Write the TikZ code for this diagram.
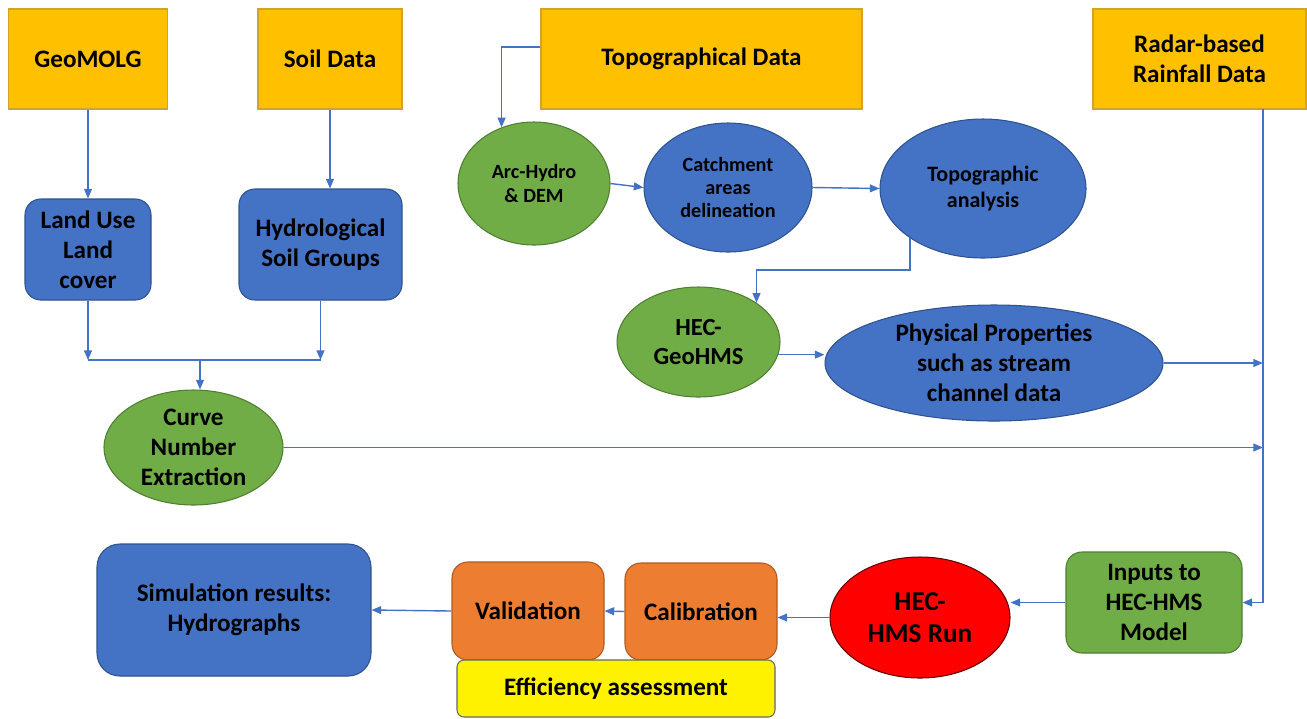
\documentclass[tikz,border=0pt]{standalone}
\usepackage{fontspec}
\setmainfont{Carlito}
\usetikzlibrary{shapes.geometric, arrows.meta}

\definecolor{gold}{HTML}{FFC000}
\definecolor{goldline}{HTML}{D4A22B}
\definecolor{blu}{HTML}{4472C4}
\definecolor{bluline}{HTML}{2F528F}
\definecolor{grn}{HTML}{70AD47}
\definecolor{grnline}{HTML}{507E32}
\definecolor{orng}{HTML}{ED7D31}
\definecolor{orngline}{HTML}{AE5A21}

\tikzset{
dims/.style 2 args = {minimum width=#1*0.02cm, minimum height=#2*0.02cm},
txt/.style = {font=\fontsize{14.3}{17}\selectfont\bfseries, align=center,
              text=black, inner sep=0pt},
small/.style = {font=\fontsize{11.5}{13.2}\selectfont\bfseries},
data/.style = {rectangle, txt, fill=gold, draw=goldline, line width=0.8pt},
proc/.style = {rectangle, rounded corners=9pt, txt, line width=0.6pt},
oval/.style = {ellipse, txt, line width=0.6pt},
link/.style = {draw=blu, line width=0.8pt,
               -{Triangle[length=5.5pt,width=4.5pt]}}
}

\begin{document}
\begin{tikzpicture}[x=0.02cm, y=-0.02cm]
	\useasboundingbox (0,0) rectangle (1307,718);
	
	% Data sources
	\node[data, dims={159}{100}] (geomolg) at (88,59) {GeoMOLG};
	\node[data, dims={144}{100}] (soil) at (330,59) {Soil Data};
	\node[data, dims={321}{100}] (topo) at (701.5,59) {Topographical Data};
	\node[data, dims={213}{100}] (radar) at (1199.5,59) {Radar-based\\Rainfall Data};
	
	% Land cover and soil
	\node[proc, fill=blu, draw=bluline, dims={126}{101}] (landuse) at (88,249.5) {Land Use\\Land\\cover};
	\node[proc, fill=blu, draw=bluline, dims={163}{111}] (hydro) at (320.5,244.5) {Hydrological\\Soil Groups};
	\node[oval, fill=grn, draw=grnline, dims={179}{115}] (curve) at (193.5,447.5) {Curve\\Number\\Extraction};
	
	% Terrain processing
	\node[oval, small, fill=grn, draw=grnline, dims={152}{123}] (arc) at (534,183.5) {Arc-Hydro\\\& DEM};
	\node[oval, small, fill=blu, draw=bluline, dims={168}{129}] (catch) at (728,187.5) {Catchment\\areas\\delineation};
	\node[oval, fill=blu, draw=bluline, dims={206}{139}, font=\fontsize{12.5}{15.3}\selectfont\bfseries] (topan) at (983,188.5) {Topographic\\analysis};
	\node[oval, fill=grn, draw=grnline, dims={163}{110}, font=\fontsize{14}{17}\selectfont\bfseries] (geohms) at (698.5,342) {HEC-\\GeoHMS};
	\node[oval, fill=blu, draw=bluline, dims={338}{116}] (phys) at (994,363) {Physical Properties\\such as stream\\channel data};
	
	% Model chain
	\node[proc, fill=grn, draw=grnline, dims={176}{101}] (inputs) at (1154,602.5) {Inputs to\\HEC-HMS\\Model};
	\node[oval, fill=red, draw=red!40!black, dims={180}{121}, font=\fontsize{15.5}{18}\selectfont\bfseries] (run) at (920,617.5) {HEC-\\HMS Run};
	\node[proc, fill=orng, draw=orngline, dims={152}{97}] (calib) at (701,611.5) {Calibration};
	\node[proc, fill=orng, draw=orngline, dims={152}{98}] (valid) at (528,611) {Validation};
	\node[rectangle, txt, rounded corners=4pt, fill=yellow, draw=black!60, line width=0.6pt, dims={318}{57}] (eff) at (616,688.5) {Efficiency assessment};
	\node[proc, rounded corners=13pt, fill=blu, draw=bluline, dims={274}{132}] (sim) at (234,610) {Simulation results:\\Hydrographs};
	
	% Junctions
	\coordinate (jl) at (88,360);
	\coordinate (jm) at (200,359);
	\coordinate (rb) at (1263,109);
	
	% Connectors
	\draw[link] (geomolg) -- (landuse);
	\draw[link] (soil.south) -- (soil.south |- hydro.north);
	\draw[link] (landuse.south) -- (jl);
	\draw[link] (hydro.south) -- (hydro.south |- jl);
	\draw[draw=blu, line width=0.8pt] (jl) -- (hydro.south |- jl);
	\draw[link] (jm) -- (jm |- curve.north);
	
	\draw[link] (topo.west |- 0,47) -| (arc.120);
	\draw[link] (arc.east) -- (catch.west);
	\draw[link] (catch.east) -- (topan.west);
	\draw[link] (topan.south west) -- ++(0,32) -| (geohms.north east);
	\draw[link] (geohms.-9) -- (geohms.-9 -| phys.west);
	
	\draw[link] (rb) |- (inputs.east);
	\draw[link] (phys.east) -- (phys.east -| rb);
	\draw[link] (curve.east) -- (curve.east -| rb);
	
	\draw[link] (inputs.west) -- (inputs.west -| run.east);
	\draw[link] (run.west) -- (run.west -| calib.east);
	\draw[link] (calib.west) -- (valid.east);
	\draw[link] (valid.west) -- (sim.east);

\end{tikzpicture}
\end{document}
